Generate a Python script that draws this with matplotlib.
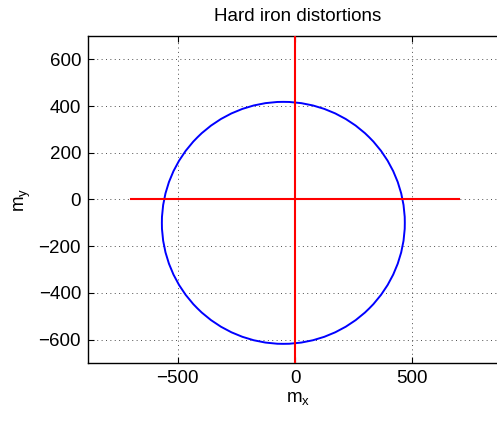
import matplotlib
matplotlib.use('Agg')
from matplotlib import pyplot as plt
from matplotlib.patches import Circle

# Hard iron distorted magnetometer readings (circle) and reference axes
center = (-50, -100)
radius = 518

h_axis_x = [-700, 700]
h_axis_y = [0, 0]
v_axis_x = [0, 0]
v_axis_y = [-700, 700]

x_ticks = [-500, 0, 500]
y_ticks = [-600, -400, -200, 0, 200, 400, 600]
x_lim = (-883, 908)
y_lim = (-700, 700)

plt.rcParams['font.family'] = ['Liberation Sans', 'DejaVu Sans']
plt.rcParams['mathtext.default'] = 'regular'

fig = plt.figure(figsize = (4.97, 4.23), dpi = 100)
# axes runs past the right edge of the figure, as in the cropped reference
ax = fig.add_axes([88 / 497, 60 / 423, 420 / 497, 327 / 423])

ax.add_patch(Circle(center, radius, fill = False, edgecolor = (0, 0, 1), linewidth = 1.4, zorder = 3))
ax.plot(h_axis_x, h_axis_y, color = (1, 0, 0), linewidth = 1.5, zorder = 4)
ax.plot(v_axis_x, v_axis_y, color = (1, 0, 0), linewidth = 1.5, zorder = 4)

ax.set_xlim(*x_lim)
ax.set_ylim(*y_lim)
ax.set_xticks(x_ticks)
ax.set_yticks(y_ticks)

ax.grid(True, linestyle = (0, (1, 3.5)), color = '0.3', linewidth = 0.7)
ax.tick_params(direction = 'in', top = True, right = True, length = 4, width = 0.8,
               labelsize = 13.5, pad = 5)
for s in ax.spines.values():
  s.set_linewidth(1.0)

ax.set_title('Hard iron distortions', fontsize = 13.5, pad = 11)
ax.set_xlabel('$m_x$', fontsize = 13.5, labelpad = 2)
ax.set_ylabel('$m_y$', fontsize = 13.5, labelpad = 4)

fig.savefig('out.png', dpi = 100)
